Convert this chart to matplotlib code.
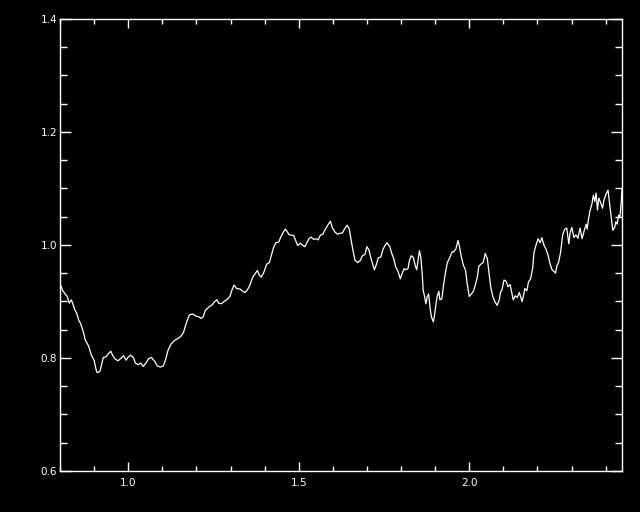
import matplotlib
matplotlib.use("Agg")
import matplotlib.pyplot as plt
from matplotlib.ticker import MultipleLocator

# spectrum
wave = [0.800, 0.804, 0.808, 0.816, 0.821, 0.827, 0.833, 0.837, 0.843, 0.849,
        0.855, 0.861, 0.868, 0.874, 0.884, 0.892, 0.900, 0.906, 0.909, 0.917,
        0.923, 0.927, 0.935, 0.941, 0.949, 0.955, 0.962, 0.970, 0.978, 0.986,
        0.994, 0.999, 1.007, 1.015, 1.021, 1.029, 1.037, 1.044, 1.052, 1.060,
        1.068, 1.078, 1.085, 1.095, 1.103, 1.109, 1.117, 1.126, 1.136, 1.144,
        1.154, 1.162, 1.170, 1.179, 1.189, 1.199, 1.207, 1.213, 1.220, 1.226,
        1.236, 1.246, 1.254, 1.260, 1.265, 1.273, 1.281, 1.291, 1.299, 1.304,
        1.310, 1.318, 1.328, 1.334, 1.342, 1.349, 1.357, 1.365, 1.373, 1.379,
        1.384, 1.390, 1.398, 1.406, 1.414, 1.420, 1.426, 1.433, 1.441, 1.449,
        1.455, 1.461, 1.467, 1.472, 1.485, 1.491, 1.497, 1.505, 1.513, 1.518,
        1.524, 1.530, 1.536, 1.544, 1.552, 1.557, 1.563, 1.571, 1.577, 1.585,
        1.593, 1.599, 1.606, 1.614, 1.622, 1.628, 1.634, 1.642, 1.648, 1.653,
        1.659, 1.665, 1.673, 1.681, 1.687, 1.694, 1.700, 1.706, 1.712, 1.718,
        1.722, 1.728, 1.733, 1.741, 1.747, 1.753, 1.759, 1.767, 1.773, 1.779,
        1.784, 1.792, 1.798, 1.803, 1.809, 1.815, 1.821, 1.824, 1.830, 1.836,
        1.842, 1.846, 1.850, 1.854, 1.858, 1.862, 1.865, 1.869, 1.873, 1.877,
        1.881, 1.885, 1.889, 1.895, 1.899, 1.903, 1.906, 1.911, 1.914, 1.920,
        1.924, 1.930, 1.936, 1.944, 1.950, 1.955, 1.961, 1.967, 1.971, 1.977,
        1.983, 1.989, 1.994, 2.000, 2.006, 2.012, 2.018, 2.024, 2.028, 2.034,
        2.041, 2.047, 2.053, 2.057, 2.063, 2.069, 2.075, 2.082, 2.088, 2.092,
        2.096, 2.102, 2.108, 2.114, 2.120, 2.125, 2.129, 2.135, 2.141, 2.147,
        2.155, 2.159, 2.163, 2.169, 2.174, 2.180, 2.186, 2.190, 2.196, 2.202,
        2.208, 2.213, 2.219, 2.225, 2.231, 2.237, 2.243, 2.249, 2.253, 2.257,
        2.262, 2.268, 2.274, 2.280, 2.286, 2.292, 2.296, 2.301, 2.307, 2.313,
        2.319, 2.325, 2.331, 2.337, 2.343, 2.346, 2.350, 2.354, 2.360, 2.364,
        2.368, 2.372, 2.376, 2.380, 2.386, 2.391, 2.395, 2.401, 2.407, 2.411,
        2.417, 2.421, 2.427, 2.430, 2.434, 2.438, 2.442, 2.446, 2.448]
flux = [0.930, 0.926, 0.919, 0.913, 0.909, 0.897, 0.903, 0.897, 0.886, 0.879,
        0.867, 0.860, 0.847, 0.832, 0.821, 0.805, 0.796, 0.779, 0.774, 0.776,
        0.791, 0.801, 0.802, 0.807, 0.812, 0.804, 0.798, 0.795, 0.799, 0.804,
        0.796, 0.801, 0.805, 0.801, 0.791, 0.788, 0.791, 0.785, 0.791, 0.799,
        0.801, 0.794, 0.786, 0.784, 0.786, 0.796, 0.814, 0.825, 0.831, 0.834,
        0.838, 0.845, 0.861, 0.876, 0.878, 0.874, 0.873, 0.870, 0.873, 0.884,
        0.890, 0.894, 0.900, 0.903, 0.897, 0.896, 0.900, 0.904, 0.910, 0.920,
        0.929, 0.923, 0.922, 0.919, 0.916, 0.920, 0.929, 0.943, 0.950, 0.955,
        0.947, 0.943, 0.952, 0.966, 0.969, 0.982, 0.995, 1.004, 1.005, 1.016,
        1.023, 1.028, 1.023, 1.018, 1.017, 1.008, 0.999, 1.003, 0.999, 0.997,
        1.004, 1.011, 1.014, 1.010, 1.011, 1.009, 1.017, 1.019, 1.027, 1.035,
        1.042, 1.030, 1.023, 1.019, 1.021, 1.021, 1.028, 1.035, 1.029, 1.011,
        0.991, 0.973, 0.969, 0.973, 0.981, 0.983, 0.997, 0.991, 0.976, 0.964,
        0.956, 0.966, 0.977, 0.979, 0.992, 0.999, 1.004, 0.997, 0.985, 0.975,
        0.962, 0.952, 0.940, 0.949, 0.958, 0.956, 0.959, 0.971, 0.981, 0.978,
        0.963, 0.956, 0.973, 0.990, 0.979, 0.950, 0.920, 0.909, 0.896, 0.909,
        0.913, 0.890, 0.873, 0.864, 0.879, 0.897, 0.909, 0.918, 0.903, 0.905,
        0.926, 0.950, 0.969, 0.979, 0.988, 0.988, 0.993, 1.008, 0.998, 0.979,
        0.964, 0.956, 0.932, 0.909, 0.913, 0.918, 0.929, 0.944, 0.962, 0.966,
        0.969, 0.985, 0.976, 0.956, 0.926, 0.909, 0.900, 0.893, 0.903, 0.917,
        0.920, 0.938, 0.936, 0.926, 0.930, 0.915, 0.903, 0.910, 0.907, 0.916,
        0.900, 0.910, 0.923, 0.919, 0.935, 0.940, 0.959, 0.987, 1.000, 1.011,
        1.004, 1.013, 1.000, 0.993, 0.982, 0.967, 0.956, 0.953, 0.950, 0.963,
        0.969, 0.987, 1.018, 1.028, 1.030, 1.002, 1.022, 1.031, 1.013, 1.018,
        1.012, 1.030, 1.011, 1.025, 1.037, 1.028, 1.047, 1.060, 1.073, 1.088,
        1.077, 1.092, 1.062, 1.083, 1.074, 1.065, 1.079, 1.090, 1.097, 1.077,
        1.047, 1.026, 1.032, 1.041, 1.037, 1.053, 1.050, 1.077, 1.100]

xlim = (0.8, 2.448)
ylim = (0.6, 1.4)
xticks = [1.0, 1.5, 2.0]
yticks = [0.6, 0.8, 1.0, 1.2, 1.4]

fig = plt.figure(figsize=(6.4, 5.12), dpi=100, facecolor="black")
ax = fig.add_axes([0.09375, 0.0801, 0.8781, 0.8828], facecolor="black")

ax.plot(wave, flux, color="white", lw=0.9)

ax.set_xlim(*xlim)
ax.set_ylim(*ylim)
ax.set_xticks(xticks)
ax.set_xticklabels([f"{t:.1f}" for t in xticks])
ax.set_yticks(yticks)
ax.set_yticklabels([f"{t:.1f}" for t in yticks])
ax.xaxis.set_minor_locator(MultipleLocator(0.1))
ax.yaxis.set_minor_locator(MultipleLocator(0.05))

for s in ax.spines.values():
    s.set_color("white")
    s.set_linewidth(1.0)

ax.tick_params(axis="both", which="both", direction="in", colors="white",
               top=True, right=True, width=1.0, labelsize=7.5)
ax.tick_params(axis="x", which="major", length=6.5, pad=5)
ax.tick_params(axis="x", which="minor", length=3.6)
ax.tick_params(axis="y", which="major", length=8, pad=2)
ax.tick_params(axis="y", which="minor", length=5)

fig.savefig("out.png", dpi=100, facecolor="black")
